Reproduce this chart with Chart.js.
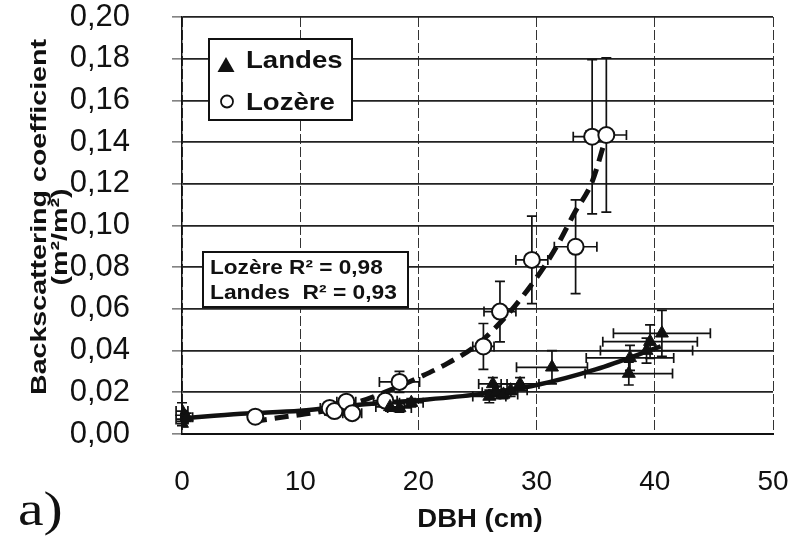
<!DOCTYPE html>
<html>
<head>
<meta charset="utf-8">
<script src="https://cdn.jsdelivr.net/npm/chart.js@4.4.1/dist/chart.umd.min.js"></script>
<style>
  html, body { margin: 0; padding: 0; background: #fff; }
  #wrap { width: 799px; height: 538px; }
</style>
</head>
<body>
<div id="wrap"><canvas id="chart" width="799" height="538"></canvas></div>
<script>
// Landes (filled triangles)
const landesX    = [0, 0, 0, 0.4, 17.6, 18.4, 19.4, 26.0, 26.3, 26.6, 27.2, 27.8, 28.6, 31.3, 37.8, 37.9, 39.3, 39.6, 40.6];
const landesY    = [0.011, 0.007, 0.005, 0.008, 0.013, 0.0125, 0.015, 0.018, 0.024, 0.020, 0.019, 0.021, 0.024, 0.032, 0.029, 0.0365, 0.040, 0.0443, 0.0483];
const landesXErr = [0.5, 0.5, 0, 0.5, 1.2, 1.0, 1.0, 1.4, 1.2, 1.2, 1.2, 1.4, 1.6, 3.0, 3.7, 3.7, 3.9, 4.0, 4.1];
const landesYErr = [0.004, 0.002, 0.001, 0.002, 0.002, 0.002, 0.002, 0.003, 0.003, 0.003, 0.002, 0.003, 0.003, 0.008, 0.0055, 0.006, 0.006, 0.008, 0.011];

// Lozère (open circles)
const lozereX    = [6.2, 12.5, 12.9, 13.9, 14.4, 17.2, 18.4, 25.5, 26.9, 29.6, 33.3, 34.7, 35.9];
const lozereY    = [0.0083, 0.0125, 0.011, 0.0155, 0.010, 0.016, 0.025, 0.042, 0.0587, 0.0835, 0.0898, 0.1426, 0.1434];
const lozereXErr = [0.5, 0.8, 0.8, 0.8, 0.8, 1.0, 1.7, 0.9, 1.35, 1.35, 1.8, 1.6, 1.7];
const lozereYErr = [0.001, 0.002, 0.002, 0.002, 0.002, 0.002, 0.005, 0.011, 0.0145, 0.021, 0.0225, 0.037, 0.037];

// fitted curves
const landesFitX = [0, 5, 10, 15, 20, 25, 30, 35, 40.5];
const landesFitY = [0.0075, 0.0097, 0.0112, 0.014, 0.0162, 0.019, 0.0235, 0.031, 0.042];
const lozereFitX = [6, 9, 12, 15, 18, 20, 22.5, 25, 27.5, 30, 31.7, 33.2, 34.7, 35.9];
const lozereFitY = [0.006, 0.0085, 0.011, 0.0155, 0.022, 0.027, 0.034, 0.043, 0.057, 0.075, 0.090, 0.106, 0.121, 0.143];

// axis ticks
const xTicks = [0, 10, 20, 30, 40, 50];
const yTicks = [0, 0.02, 0.04, 0.06, 0.08, 0.10, 0.12, 0.14, 0.16, 0.18, 0.20];

const legendLabels = ['Landes', 'Lozère'];
const r2Lines = ['Lozère R² = 0,98', 'Landes  R² = 0,93'];

const pts = (xs, ys) => xs.map((x, i) => ({ x, y: ys[i] }));
const SANS = '"Liberation Sans", Arial, sans-serif';

// text drawn a bit wider than the font, like the scanned original
function wideText(ctx, str, x, y, font, sx, align = 'left', rot = 0) {
  ctx.save();
  ctx.translate(x, y);
  if (rot) ctx.rotate(rot);
  ctx.scale(sx, 1);
  ctx.font = font;
  ctx.textAlign = align;
  ctx.textBaseline = 'middle';
  ctx.fillText(str, 0, 0);
  ctx.restore();
}

const errorBars = {
  id: 'errorBars',
  beforeDatasetDraw(chart, args) {
    if (args.index !== 1) return;
    const { ctx, scales: { x, y } } = chart;
    const sets = [[landesX, landesY, landesXErr, landesYErr], [lozereX, lozereY, lozereXErr, lozereYErr]];
    ctx.save();
    ctx.strokeStyle = '#111';
    ctx.lineWidth = 1.7;
    const cap = 5;
    sets.forEach(([xs, ys, xe, ye]) => {
      xs.forEach((xv, i) => {
        const px = x.getPixelForValue(xv), py = y.getPixelForValue(ys[i]);
        if (xe[i] > 0) {
          const x0 = x.getPixelForValue(xv - xe[i]), x1 = x.getPixelForValue(xv + xe[i]);
          ctx.beginPath();
          ctx.moveTo(x0, py); ctx.lineTo(x1, py);
          ctx.moveTo(x0, py - cap); ctx.lineTo(x0, py + cap);
          ctx.moveTo(x1, py - cap); ctx.lineTo(x1, py + cap);
          ctx.stroke();
        }
        if (ye[i] > 0) {
          const y0 = y.getPixelForValue(ys[i] - ye[i]), y1 = y.getPixelForValue(ys[i] + ye[i]);
          ctx.beginPath();
          ctx.moveTo(px, y0); ctx.lineTo(px, y1);
          ctx.moveTo(px - cap, y0); ctx.lineTo(px + cap, y0);
          ctx.moveTo(px - cap, y1); ctx.lineTo(px + cap, y1);
          ctx.stroke();
        }
      });
    });
    ctx.restore();
  }
};

const overlay = {
  id: 'overlay',
  afterDraw(chart) {
    const ctx = chart.ctx;
    ctx.save();
    ctx.fillStyle = '#111';
    ctx.strokeStyle = '#111';

    // legend box
    ctx.fillStyle = '#fff';
    ctx.fillRect(209, 39, 143, 81);
    ctx.lineWidth = 2;
    ctx.strokeRect(209, 39, 143, 81);
    ctx.fillStyle = '#111';
    ctx.beginPath();
    ctx.moveTo(226, 57); ctx.lineTo(234.5, 72); ctx.lineTo(217.5, 72); ctx.closePath();
    ctx.fill();
    ctx.beginPath();
    ctx.arc(227, 101.5, 6, 0, Math.PI * 2);
    ctx.lineWidth = 1.8;
    ctx.stroke();
    wideText(ctx, legendLabels[0], 246, 61, 'bold 24px ' + SANS, 1.15);
    wideText(ctx, legendLabels[1], 246, 103, 'bold 24px ' + SANS, 1.15);

    // R² box
    ctx.fillStyle = '#fff';
    ctx.fillRect(203, 252, 205, 55);
    ctx.lineWidth = 2;
    ctx.strokeRect(203, 252, 205, 55);
    ctx.fillStyle = '#111';
    wideText(ctx, r2Lines[0], 210, 268, 'bold 20px ' + SANS, 1.13);
    wideText(ctx, r2Lines[1], 210, 293, 'bold 20px ' + SANS, 1.14);

    // y title
    wideText(ctx, 'Backscattering coefficient', 40, 217, 'bold 22px ' + SANS, 1.3, 'center', -Math.PI / 2);
    wideText(ctx, '(m²/m²)', 61, 237, 'bold 22px ' + SANS, 1.3, 'center', -Math.PI / 2);

    // x title
    wideText(ctx, 'DBH (cm)', 480, 520, 'bold 25px ' + SANS, 1.1, 'center');

    // panel letter
    wideText(ctx, 'a)', 18, 512, '48px "Liberation Serif", "DejaVu Serif", serif', 1.2);
    ctx.restore();
  }
};

new Chart(document.getElementById('chart'), {
  type: 'scatter',
  data: {
    datasets: [
      {
        label: 'Landes',
        data: pts(landesX, landesY),
        pointStyle: 'triangle',
        pointRadius: 7.5,
        backgroundColor: '#111',
        borderColor: '#111',
        borderWidth: 1,
      },
      {
        label: 'Lozère',
        data: pts(lozereX, lozereY),
        pointStyle: 'circle',
        pointRadius: 8,
        backgroundColor: '#fff',
        borderColor: '#111',
        borderWidth: 2,
      },
      {
        label: 'Landes fit',
        data: pts(landesFitX, landesFitY),
        showLine: true,
        pointRadius: 0,
        borderColor: '#111',
        borderWidth: 4.5,
        cubicInterpolationMode: 'monotone',
      },
      {
        label: 'Lozère fit',
        data: pts(lozereFitX, lozereFitY),
        showLine: true,
        pointRadius: 0,
        borderColor: '#111',
        borderWidth: 5,
        borderDash: [14, 8],
        cubicInterpolationMode: 'monotone',
      },
    ],
  },
  options: {
    responsive: false,
    animation: false,
    layout: { padding: { top: 17, right: 26, left: 0, bottom: 0 } },
    plugins: { legend: { display: false }, tooltip: { enabled: false } },
    scales: {
      x: {
        type: 'linear',
        min: 0, max: 50,
        afterFit: s => { s.height = 104; s.paddingLeft = 0; s.paddingRight = 0; },
        afterBuildTicks: s => { s.ticks = xTicks.map(v => ({ value: v })); },
        ticks: {
          padding: 31,
          autoSkip: false,
          maxRotation: 0,
          color: '#111',
          font: { family: SANS, size: 28 },
        },
        grid: { color: '#333', lineWidth: 1, drawTicks: false },
        border: { color: '#111', width: 2, dash: [10, 3] },
      },
      y: {
        type: 'linear',
        min: 0, max: 0.2,
        afterFit: s => { s.width = 182; s.paddingTop = 0; s.paddingBottom = 0; },
        afterBuildTicks: s => { s.ticks = yTicks.map(v => ({ value: v })); },
        ticks: {
          padding: 42,
          autoSkip: false,
          color: '#111',
          font: { family: SANS, size: 31 },
          callback: v => v.toFixed(2).replace('.', ','),
        },
        grid: { color: '#222', lineWidth: 1.8, tickLength: 10, tickColor: '#333', tickWidth: 1 },
        border: { color: '#111', width: 1.5 },
      },
    },
  },
  plugins: [errorBars, overlay],
});
</script>
</body>
</html>
